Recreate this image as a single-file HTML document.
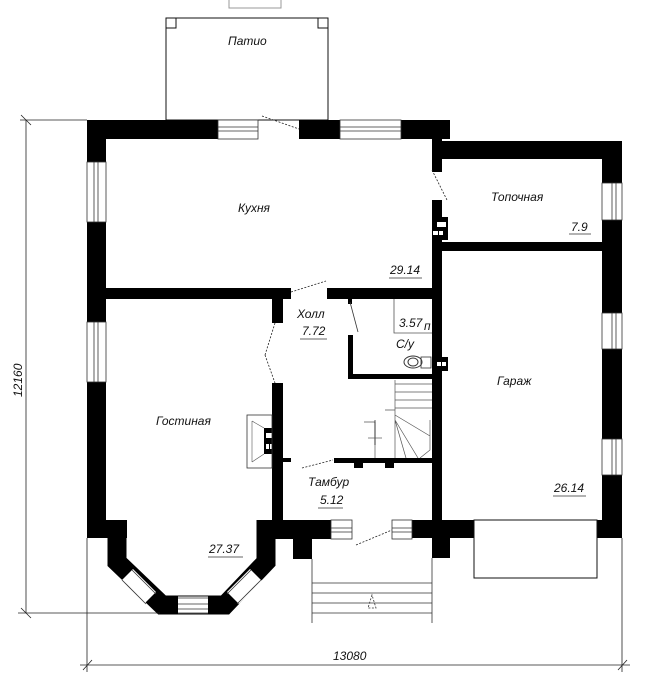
<!DOCTYPE html>
<html><head><meta charset="utf-8"><style>
html,body{margin:0;padding:0;background:#fff}
svg{display:block}
text{font-family:"Liberation Sans",sans-serif;font-style:italic;font-size:12px;fill:#111}
</style></head><body>
<svg width="646" height="700" viewBox="0 0 646 700" xmlns="http://www.w3.org/2000/svg">
<!-- Patio -->
<g fill="none" stroke="#111" stroke-width="1">
<rect x="166" y="18" width="162" height="102"/>
<path d="M166 28h10v-10M318 18v10h10"/>
</g>
<path d="M229 0v8h52v-8" fill="none" stroke="#999"/>
<text x="228" y="45">Патио</text>

<!-- walls -->
<g fill="#000">
<!-- top wall -->
<rect x="87" y="120" width="131" height="19"/>
<rect x="299" y="120" width="41" height="19"/>
<rect x="401" y="120" width="49" height="19"/>
<rect x="432" y="139" width="10" height="33"/>
<!-- topochnaya top -->
<rect x="442" y="141" width="180" height="18"/>
<!-- right wall -->
<rect x="602" y="141" width="20" height="397"/>
<!-- left wall -->
<rect x="87" y="120" width="19" height="418"/>
<!-- central wall -->
<rect x="432" y="200" width="10" height="358"/>
<rect x="432" y="217" width="16" height="23"/>
<rect x="432" y="357" width="16" height="14"/>
<!-- garage top -->
<rect x="442" y="242" width="160" height="9"/>
<!-- kitchen/living wall -->
<rect x="106" y="288" width="185" height="11"/>
<rect x="327" y="288" width="105" height="11"/>
<!-- living/hall partition -->
<rect x="272" y="299" width="11" height="24"/>
<rect x="272" y="383" width="11" height="137"/>
<rect x="283" y="458" width="8" height="4"/>
<!-- bathroom -->
<rect x="348" y="299" width="4" height="5"/>
<rect x="348" y="335" width="5" height="44"/>
<rect x="348" y="374" width="84" height="5"/>
<!-- tambur top -->
<rect x="334" y="458" width="98" height="5"/>
<rect x="354" y="463" width="9" height="5"/>
<rect x="385" y="463" width="9" height="5"/>
<!-- bottom wall -->
<rect x="257" y="520" width="74" height="19"/>
<rect x="412" y="520" width="62" height="18"/>
<rect x="597" y="520" width="25" height="18"/>
<rect x="293" y="539" width="19" height="20"/>
<rect x="432" y="538" width="18" height="20"/>
<rect x="87" y="520" width="40" height="18"/>
</g>
<!-- bay -->
<polyline points="117,520 117,562 162,605 225,605 266,562 266,520" fill="none" stroke="#000" stroke-width="19" stroke-linejoin="miter"/>
<!-- bay windows -->
<g stroke="#fff" stroke-width="17" fill="none">
<line x1="127" y1="575" x2="150" y2="598"/>
<line x1="178" y1="605" x2="208" y2="605"/>
<line x1="256" y1="575" x2="233" y2="598"/>
</g>
<g stroke="#333" stroke-width="0.8" fill="none">
<line x1="178" y1="598" x2="208" y2="598"/><line x1="178" y1="604" x2="208" y2="604"/><line x1="178" y1="609" x2="208" y2="609"/><line x1="178" y1="613" x2="208" y2="613"/>
<line x1="122" y1="580" x2="146" y2="604"/><line x1="132" y1="570" x2="156" y2="594"/>
<line x1="261" y1="580" x2="237" y2="604"/><line x1="251" y1="570" x2="227" y2="594"/>
</g>

<!-- windows -->
<g fill="#fff" stroke="#333" stroke-width="0.8">
<rect x="218" y="120" width="40" height="19"/><line x1="218" y1="127" x2="258" y2="127"/><line x1="218" y1="131" x2="258" y2="131"/>
<rect x="340" y="120" width="61" height="19"/><line x1="340" y1="127" x2="401" y2="127"/><line x1="340" y1="131" x2="401" y2="131"/>
<rect x="87" y="162" width="19" height="60"/><line x1="94" y1="162" x2="94" y2="222"/><line x1="98" y1="162" x2="98" y2="222"/>
<rect x="87" y="322" width="19" height="60"/><line x1="94" y1="322" x2="94" y2="382"/><line x1="98" y1="322" x2="98" y2="382"/>
<rect x="602" y="183" width="20" height="37"/><line x1="612" y1="183" x2="612" y2="220"/><line x1="616" y1="183" x2="616" y2="220"/>
<rect x="602" y="313" width="20" height="36"/><line x1="612" y1="313" x2="612" y2="349"/><line x1="616" y1="313" x2="616" y2="349"/>
<rect x="602" y="439" width="20" height="36"/><line x1="612" y1="439" x2="612" y2="475"/><line x1="616" y1="439" x2="616" y2="475"/>
<rect x="331" y="520" width="21" height="19"/><line x1="331" y1="528" x2="352" y2="528"/><line x1="331" y1="532" x2="352" y2="532"/>
<rect x="392" y="520" width="20" height="19"/><line x1="392" y1="528" x2="412" y2="528"/><line x1="392" y1="532" x2="412" y2="532"/>
</g>
<!-- vents -->
<g fill="#fff"><rect x="437" y="222" width="5" height="5"/><rect x="442" y="222" width="4" height="5"/><rect x="433" y="231" width="5" height="4"/><rect x="439" y="231" width="4" height="4"/><rect x="437" y="362" width="4" height="4"/><rect x="442" y="362" width="4" height="4"/>
<rect x="266" y="433" width="5" height="5"/><rect x="266" y="445" width="5" height="5"/></g>
<rect x="264" y="428" width="8" height="26" fill="#000"/>
<g fill="#fff"><rect x="266" y="433" width="6" height="5"/><rect x="266" y="444" width="3" height="5"/><rect x="270" y="444" width="2" height="5"/></g>

<!-- doors swing dashes -->
<g stroke="#222" stroke-width="0.8" stroke-dasharray="2,1.5" fill="none">
<line x1="262" y1="116" x2="299" y2="129"/>
<line x1="291" y1="292" x2="326" y2="281"/>
<line x1="275" y1="323" x2="265" y2="355"/><line x1="265" y1="355" x2="275" y2="383"/>
<line x1="302" y1="468" x2="333" y2="460"/>
<line x1="356" y1="545" x2="392" y2="530"/>
<line x1="432" y1="170" x2="447" y2="200"/>
</g>
<line x1="350" y1="302" x2="358" y2="332" stroke="#333" stroke-width="0.8"/>
<!-- fireplace -->
<rect x="247" y="415" width="25" height="53" fill="none" stroke="#333" stroke-width="0.8"/>
<path d="M252 421 L264 428 M252 462 L264 454 M252 421 V462" fill="none" stroke="#555" stroke-width="0.6"/>
<!-- bathroom box -->
<path d="M394 299 V333 H432" fill="none" stroke="#555" stroke-width="0.8"/>
<ellipse cx="413" cy="362" rx="9" ry="6" fill="none" stroke="#333"/>
<ellipse cx="413" cy="362" rx="5" ry="4" fill="none" stroke="#333"/>
<rect x="421" y="357" width="10" height="11" fill="none" stroke="#333" stroke-width="0.8"/>
<!-- stairs -->
<g stroke="#555" stroke-width="0.7" fill="none">
<path d="M395 380 V410 M395 384 H432 M395 392 H432 M395 400 H432 M395 408 H432"/>
<path d="M385 410 H395 V458 M364 422 H375 V458 M395 415 L430 436 M395 420 L418 458 M395 420 L406 458 M430 420 V450 L420 458"/>
<line x1="375" y1="420" x2="375" y2="445" stroke="#111"/>
<line x1="368" y1="438" x2="382" y2="438"/>
</g>
<!-- garage door & porch -->
<rect x="474" y="520" width="123" height="58" fill="none" stroke="#111" stroke-width="1"/>
<g stroke="#333" stroke-width="0.8" fill="none">
<path d="M312 559 V623 M432 558 V623"/>
<path d="M312 583 H432 M312 593 H432 M312 603 H432 M312 613 H432" />
<path d="M372 595 L368 608 H376 Z" stroke-dasharray="2,1.5"/>
</g>

<!-- dimension lines -->
<g stroke="#222" stroke-width="0.8" fill="none">
<line x1="26" y1="120" x2="26" y2="613"/>
<line x1="20" y1="120" x2="87" y2="120"/>
<line x1="18" y1="613" x2="160" y2="613"/>
<line x1="21" y1="115" x2="31" y2="125"/>
<line x1="21" y1="608" x2="31" y2="618"/>
<line x1="87" y1="538" x2="87" y2="672"/>
<line x1="622" y1="538" x2="622" y2="672"/>
<line x1="80" y1="665" x2="630" y2="665"/>
<line x1="83" y1="670" x2="92" y2="660"/>
<line x1="618" y1="670" x2="627" y2="660"/>
</g>
<text x="333" y="660" font-size="15">13080</text>
<text transform="translate(22,397) rotate(-90)" font-size="15">12160</text>

<!-- labels -->
<text x="238" y="212">Кухня</text>
<text x="491" y="201">Топочная</text>
<text x="571" y="231">7.9</text>
<line x1="569" y1="234" x2="591" y2="234" stroke="#333" stroke-width="0.7"/>
<text x="390" y="274">29.14</text>
<line x1="389" y1="278" x2="422" y2="278" stroke="#333" stroke-width="0.7"/>
<text x="297" y="318">Холл</text>
<text x="302" y="335">7.72</text>
<line x1="300" y1="339" x2="327" y2="339" stroke="#333" stroke-width="0.7"/>
<text x="399" y="327">3.57</text>
<text x="424" y="330" font-size="6">п</text>
<text x="396" y="348">С/у</text>
<text x="497" y="385">Гараж</text>
<text x="156" y="425">Гостиная</text>
<text x="308" y="486">Тамбур</text>
<text x="320" y="504">5.12</text>
<line x1="318" y1="508" x2="343" y2="508" stroke="#333" stroke-width="0.7"/>
<text x="554" y="492">26.14</text>
<line x1="553" y1="496" x2="586" y2="496" stroke="#333" stroke-width="0.7"/>
<text x="209" y="553">27.37</text>
<line x1="208" y1="557" x2="243" y2="557" stroke="#333" stroke-width="0.7"/>
</svg>
</body></html>
